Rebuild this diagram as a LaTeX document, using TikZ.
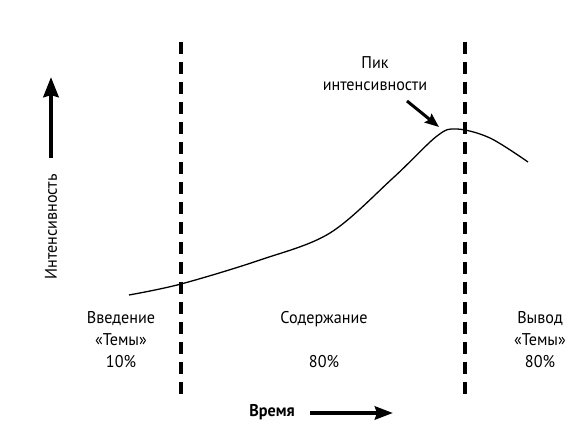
\documentclass[tikz,border=0pt]{standalone}
\usepackage{fontspec}
\setmainfont{PT Sans}[FakeStretch=0.95]
\usetikzlibrary{arrows.meta}
\begin{document}
\begin{tikzpicture}[x=1pt,y=-1pt,
  lbl/.style={font=\fontsize{17}{22}\selectfont, align=center, inner sep=0pt},
  divider/.style={line width=4pt, dash pattern=on 12pt off 8pt},
  bigarrow/.style={line width=4.5pt, -{Stealth[length=20pt,width=15pt,inset=2pt]}},
  curve/.style={line width=1.3pt}]
\useasboundingbox (0,0) rectangle (574,427);
% dividers
\coordinate (d1t) at (181,42); \coordinate (d1b) at (181,394);
\coordinate (d2t) at (465,42); \coordinate (d2b) at (465,394);
\draw[divider] (d1t) -- (d1b);
\draw[divider] (d2t) -- (d2b);
% intensity curve
\draw[curve] plot[smooth, tension=0.55] coordinates {(129,295) (181,284) (260,260) (330,233) (393,178) (437,136) (457,129) (490,138) (528,162)};
% vertical axis arrow
\coordinate (va) at (51,158); \coordinate (vb) at (51,77);
\draw[bigarrow] (va) -- (vb);
\node[lbl, rotate=90] (ylab) at (51,227) {Интенсивность};
% time arrow
\node[lbl, font=\fontsize{17}{22}\selectfont\bfseries] (xlab) at (272,412) {Время};
\coordinate (ha) at (310,413); \coordinate (hb) at (393,413);
\draw[bigarrow, line width=4pt, -{Stealth[length=18pt,width=13pt,inset=2pt]}] (ha) -- (hb);
% peak label and arrow
\node[lbl] (peak) at (375,74) {Пик\\интенсивности};
\coordinate (pa) at (407,101); \coordinate (pb) at (439,127);
\draw[line width=3pt, -{Stealth[length=14pt,width=11pt,inset=2pt]}] (pa) -- (pb);
% section labels
\node[lbl] (intro) at (121,340) {Введение\\«Темы»\\10\%};
\node[lbl] (body) at (324,340) {Содержание\\[22pt]80\%};
\node[lbl] (concl) at (540,340) {Вывод\\«Темы»\\80\%};
\end{tikzpicture}
\end{document}
